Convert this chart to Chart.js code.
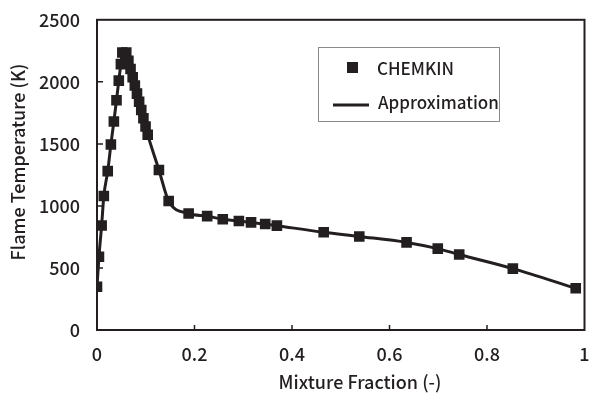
<!DOCTYPE html>
<html>
<head>
<meta charset="utf-8">
<script src="https://cdn.jsdelivr.net/npm/chart.js@4"></script>
<style>
    html, body { margin: 0; padding: 0; background: #fff; }
    #wrap { width: 592px; height: 405px; }
</style>
</head>
<body>
<div id="wrap"><canvas id="flameChart" width="592" height="405"></canvas></div>
<script>
const mixtureFraction = [0, 0.004, 0.0095, 0.014, 0.022, 0.0285, 0.0346, 0.040, 0.0447, 0.049, 0.052, 0.060,
    0.0644, 0.0688, 0.0732, 0.0776, 0.082, 0.0864, 0.0908, 0.0952, 0.0996, 0.104, 0.127, 0.147, 0.188,
    0.226, 0.258, 0.291, 0.316, 0.345, 0.369, 0.465, 0.538, 0.635, 0.699, 0.743, 0.853, 0.982]
const flameTemperature = [349, 590, 842, 1080, 1280, 1495, 1680, 1852, 2010, 2143, 2236, 2236,
    2170, 2104, 2037, 1971, 1905, 1839, 1773, 1706, 1640, 1574, 1290, 1040, 939,
    918, 892, 878, 867, 854, 841, 788, 754, 706, 656, 608, 495, 336]
const xTicks = [0, 0.2, 0.4, 0.6, 0.8, 1]
const yTicks = [0, 500, 1000, 1500, 2000, 2500]
const seriesNames = ["CHEMKIN", "Approximation"]
const xTitle = "Mixture Fraction (-)"
const yTitle = "Flame Temperature (K)"

const ink = "#231f20"
const fontFamily = "'Noto Sans CJK JP', 'Noto Sans', sans-serif"
const points = mixtureFraction.map((x, i) => ({ x, y: flameTemperature[i] }))

// frame, inward ticks, axis titles and the boxed legend
const decorPlugin = {
    id: "decor",
    afterDraw(chart) {
        const { ctx, chartArea: area, scales } = chart
        ctx.save()
        ctx.strokeStyle = ink
        ctx.lineWidth = 2
        ctx.strokeRect(area.left, area.top, area.right - area.left, area.bottom - area.top)

        ctx.lineWidth = 1.5
        ctx.beginPath()
        xTicks.slice(1, -1).forEach((v) => {
            const px = scales.x.getPixelForValue(v)
            ctx.moveTo(px, area.bottom)
            ctx.lineTo(px, area.bottom - 5)
        })
        yTicks.slice(1, -1).forEach((v) => {
            const py = scales.y.getPixelForValue(v)
            ctx.moveTo(area.left, py)
            ctx.lineTo(area.left + 6, py)
        })
        ctx.stroke()

        ctx.fillStyle = ink
        ctx.font = "500 18px " + fontFamily
        ctx.textAlign = "center"
        ctx.textBaseline = "middle"
        ctx.fillText(xTitle, 360, 382)
        ctx.save()
        ctx.translate(18, 162)
        ctx.rotate(-Math.PI / 2)
        ctx.fillText(yTitle, 0, 0)
        ctx.restore()

        // legend box
        ctx.strokeStyle = "#8a8a8a"
        ctx.lineWidth = 1
        ctx.strokeRect(318.5, 47.5, 181, 74)
        ctx.fillStyle = ink
        ctx.fillRect(347, 62, 11, 11)
        ctx.strokeStyle = ink
        ctx.lineWidth = 3
        ctx.beginPath()
        ctx.moveTo(333, 105)
        ctx.lineTo(369, 105)
        ctx.stroke()
        ctx.textAlign = "left"
        ctx.font = "500 17px " + fontFamily
        ctx.fillText(seriesNames[0], 377, 69)
        ctx.fillText(seriesNames[1], 378, 103)
        ctx.restore()
    }
}

new Chart(document.getElementById("flameChart"), {
    type: "scatter",
    data: {
        datasets: [{
            label: seriesNames[1],
            data: points,
            showLine: true,
            borderColor: ink,
            borderWidth: 3,
            pointRadius: 0,
            cubicInterpolationMode: "monotone"
        }, {
            label: seriesNames[0],
            data: points,
            showLine: false,
            pointStyle: "rect",
            pointRadius: 7.5,
            backgroundColor: ink,
            borderColor: ink,
            borderWidth: 0
        }]
    },
    options: {
        responsive: false,
        animation: false,
        layout: { padding: { left: 0, right: 3, top: 15, bottom: 0 } },
        plugins: {
            legend: { display: false },
            tooltip: { enabled: false }
        },
        scales: {
            x: {
                type: "linear",
                min: 0,
                max: 1,
                afterBuildTicks: (scale) => { scale.ticks = xTicks.map((value) => ({ value })) },
                afterFit: (scale) => { scale.height = 75; scale.paddingRight = 0; scale.paddingLeft = 0 },
                grid: { display: false },
                border: { display: false },
                ticks: {
                    color: ink,
                    padding: 5,
                    maxRotation: 0,
                    font: { family: fontFamily, size: 18, weight: 500 },
                    callback: (value) => String(value)
                }
            },
            y: {
                min: 0,
                max: 2500,
                afterBuildTicks: (scale) => { scale.ticks = yTicks.map((value) => ({ value })) },
                afterFit: (scale) => { scale.width = 97 },
                grid: { display: false },
                border: { display: false },
                ticks: {
                    color: ink,
                    padding: 9,
                    font: { family: fontFamily, size: 18, weight: 500 },
                    callback: (value) => String(value)
                }
            }
        }
    },
    plugins: [decorPlugin]
})
</script>
</body>
</html>
